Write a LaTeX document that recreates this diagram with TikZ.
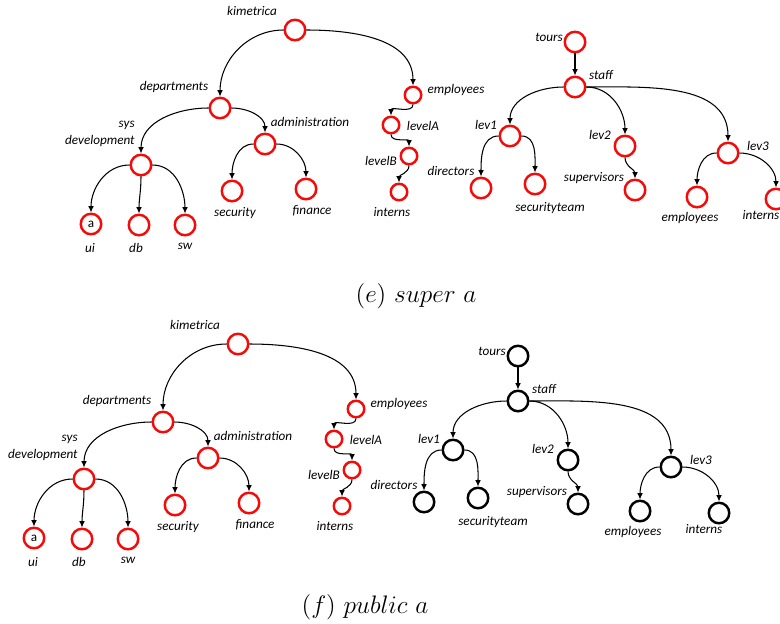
\documentclass[tikz,border=0pt]{standalone}
\usepackage{fontspec}
\newfontfamily\lblfont{Carlito}
\usetikzlibrary{arrows.meta}
\definecolor{treered}{RGB}{245,10,10}

\tikzset{
  vtx/.style       = {circle, draw=treered, line width=1.4pt, minimum size=0.41cm, inner sep=0pt},
  vtx small/.style = {vtx, minimum size=0.33cm},
  lbl/.style       = {font=\lblfont\itshape\fontsize{7.5}{9.6}\selectfont, inner sep=0pt},
  link/.style      = {-{Latex[length=3.6pt,width=3.2pt]}, line width=0.6pt},
  caption/.style   = {font=\fontsize{13.5}{16}\selectfont}
}

\begin{document}
\begin{tikzpicture}[x=0.02cm, y=-0.02cm]
\useasboundingbox (0,0) rectangle (780,623);

% the same two trees twice, second copy with a black tours tree
\foreach \p/\sx/\sy/\tc in {e/0/0/treered, f/-57/314/black} {
\begin{scope}[shift={(\sx,\sy)}]
% kimetrica tree
\node[vtx] (\p-kim) at (295,30) {};
\node[vtx] (\p-dep) at (220,108) {};
\node[vtx small] (\p-emp) at (413,95) {};
\node[vtx] (\p-sys) at (141,165) {};
\node[vtx] (\p-adm) at (265,144) {};
\node[vtx small] (\p-lva) at (391,125) {};
\node[vtx small] (\p-lvb) at (409,156) {};
\node[vtx small] (\p-int) at (399,192) {};
\node[vtx, font=\lblfont\fontsize{7.5}{9}\selectfont] (\p-ui) at (91,224) {a};
\node[vtx] (\p-db) at (139,225) {};
\node[vtx] (\p-sw) at (185,225) {};
\node[vtx] (\p-sec) at (232,191) {};
\node[vtx] (\p-fin) at (306,189) {};

\node[lbl] (\p-lkim) at (252,11) {kimetrica};
\node[lbl] (\p-ldep) at (174,87) {departments};
\node[lbl] (\p-lemp) at (456,90) {employees};
\node[lbl, align=right, anchor=east] (\p-lsys) at (135,134) {sys\\development};
\node[lbl] (\p-ladm) at (310,122) {administration};
\node[lbl] (\p-llva) at (423,126) {levelA};
\node[lbl] (\p-llvb) at (381,161) {levelB};
\node[lbl] (\p-lint) at (392,212) {interns};
\node[lbl] (\p-lui) at (90,248) {ui};
\node[lbl] (\p-ldb) at (136,248) {db};
\node[lbl] (\p-lsw) at (185,246) {sw};
\node[lbl] (\p-lsec) at (235,213) {security};
\node[lbl] (\p-lfin) at (312,211) {finance};

\draw[link] (\p-kim.west) to[out=180,in=90] (\p-dep.north);
\draw[link] (\p-kim.east) to[out=0,in=90] (\p-emp.north);
\draw[link] (\p-dep.west) to[out=180,in=90] (\p-sys.north);
\draw[link] (\p-dep.east) to[out=0,in=90] (\p-adm.north);
\draw[link] (\p-sys.west) to[out=180,in=90] (\p-ui.north);
\draw[link] (\p-sys.south) to[out=-90,in=90] (\p-db.north);
\draw[link] (\p-sys.east) to[out=0,in=90] (\p-sw.north);
\draw[link] (\p-adm.west) to[out=180,in=90] (\p-sec.north);
\draw[link] (\p-adm.east) to[out=0,in=90] (\p-fin.north);
\draw[link] (\p-emp.south) to[out=-90,in=90] (\p-lva.north);
\draw[link] (\p-lva.south) to[out=-90,in=90] (\p-lvb.north);
\draw[link] (\p-lvb.south) to[out=-90,in=90] (\p-int.north);

% tours tree
\begin{scope}[vtx/.append style={draw=\tc}]
\node[vtx] (\p-tours) at (575,42) {};
\node[vtx] (\p-staff) at (575,87) {};
\node[vtx] (\p-lev1) at (510,136) {};
\node[vtx] (\p-lev2) at (625,146) {};
\node[vtx] (\p-lev3) at (728,153) {};
\node[vtx] (\p-dir) at (481,188) {};
\node[vtx] (\p-st) at (535,184) {};
\node[vtx] (\p-sup) at (635,190) {};
\node[vtx] (\p-emp3) at (697,197) {};
\node[vtx] (\p-int3) at (776,199) {};
\end{scope}

\node[lbl] (\p-ltours) at (549,37) {tours};
\node[lbl] (\p-lstaff) at (601,75) {staff};
\node[lbl] (\p-llev1) at (486,125) {lev1};
\node[lbl] (\p-llev2) at (600,135) {lev2};
\node[lbl] (\p-llev3) at (758,146) {lev3};
\node[lbl] (\p-ldir) at (451,171) {directors};
\node[lbl] (\p-lst) at (550,208) {securityteam};
\node[lbl] (\p-lsup) at (594,178) {supervisors};
\node[lbl] (\p-lemp3) at (690,218) {employees};
\node[lbl] (\p-lint3) at (761,215) {interns};

\draw[link] (\p-tours) -- (\p-staff);
\draw[link] (\p-staff.west) to[out=180,in=90] (\p-lev1.north);
\draw[link] (\p-staff.east) to[out=0,in=90] (\p-lev2.north);
\draw[link] (\p-staff.east) to[out=0,in=90] (\p-lev3.north);
\draw[link] (\p-lev1.west) to[out=180,in=90] (\p-dir.north);
\draw[link] (\p-lev1.east) to[out=0,in=90] (\p-st.north);
\draw[link] (\p-lev2.south) to[out=-90,in=90] (\p-sup.north);
\draw[link] (\p-lev3.west) to[out=180,in=90] (\p-emp3.north);
\draw[link] (\p-lev3.east) to[out=0,in=90] (\p-int3.north);
\end{scope}
}

% captions
\node[caption] (capE) at (416,296) {$(e)\ super\ a$};
\node[caption] (capF) at (365,607) {$(f)\ public\ a$};
\end{tikzpicture}
\end{document}
